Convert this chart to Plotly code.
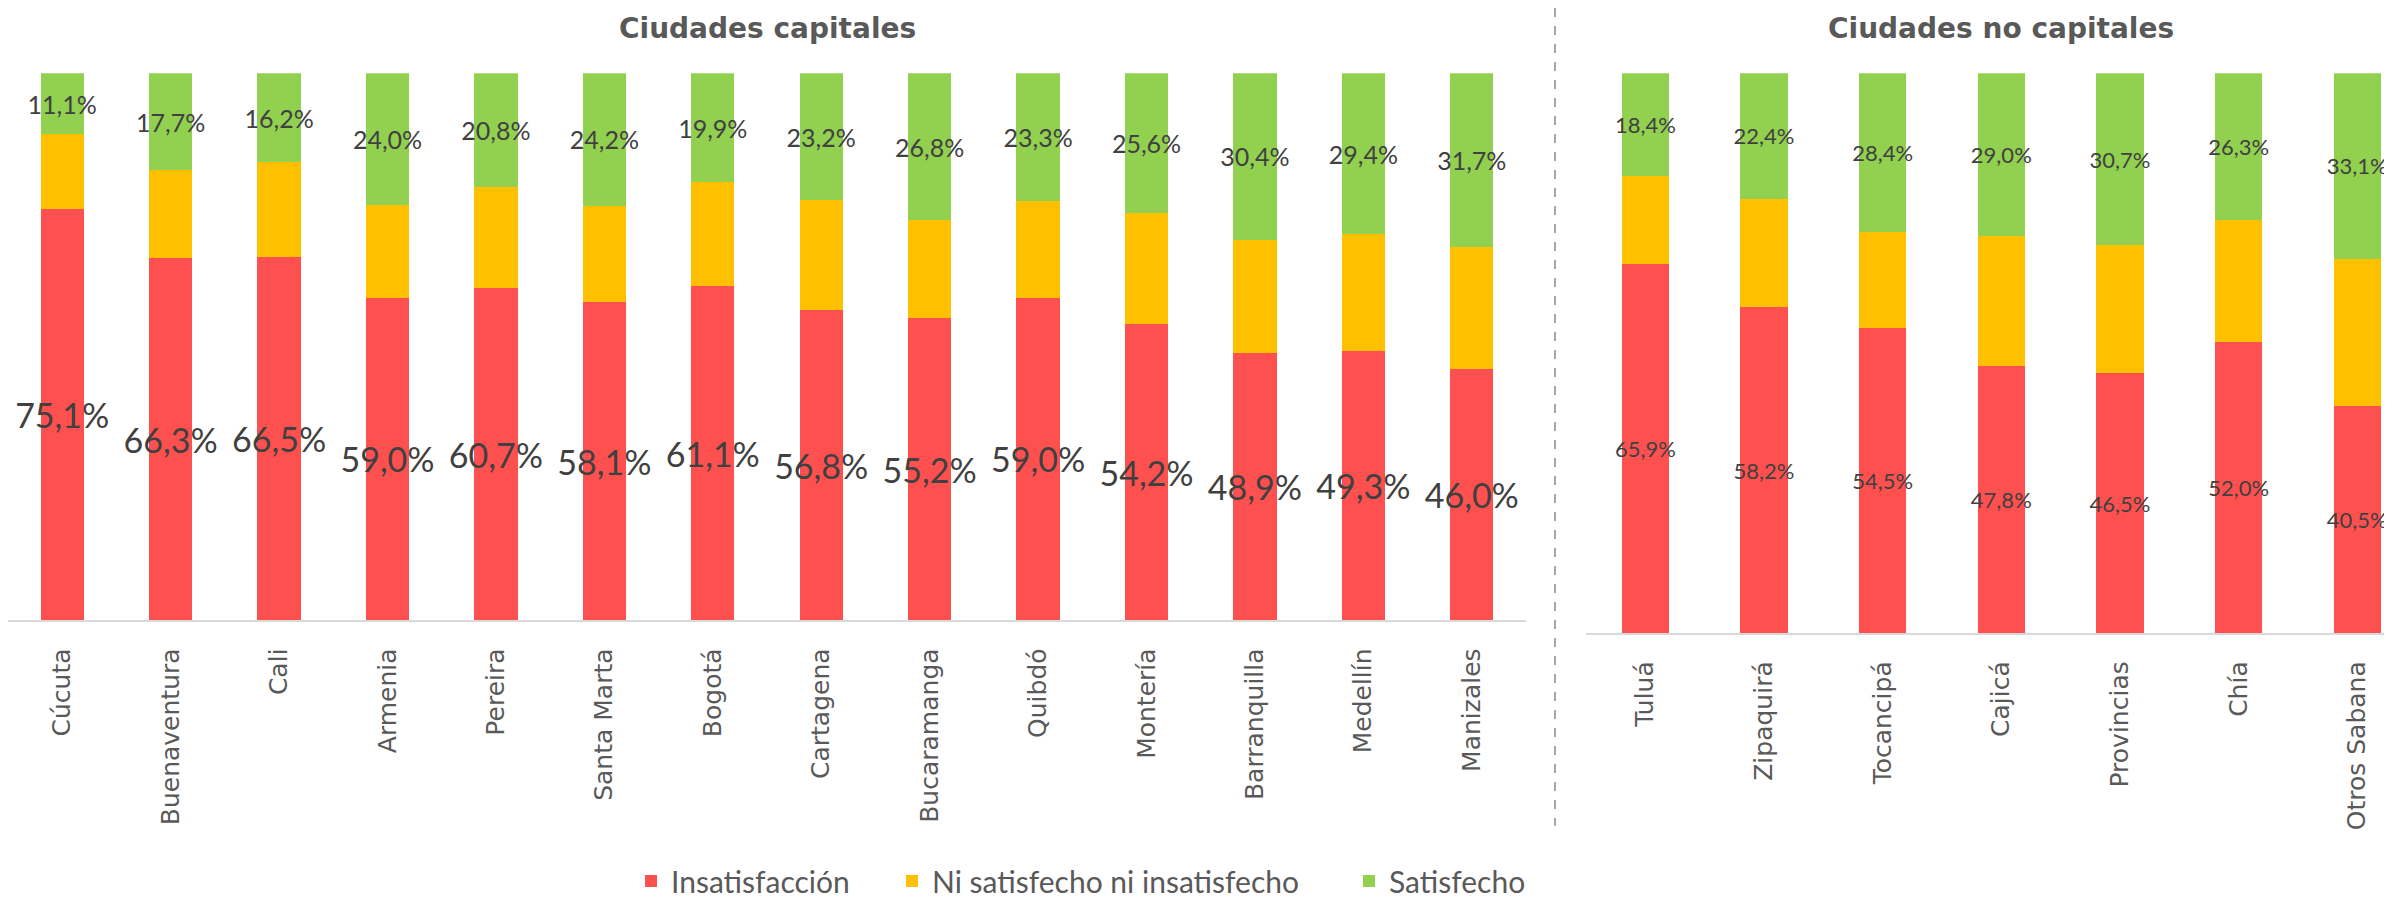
import plotly.graph_objects as go

# Ciudades capitales
capitales = ["Cúcuta", "Buenaventura", "Cali", "Armenia", "Pereira", "Santa Marta", "Bogotá",
             "Cartagena", "Bucaramanga", "Quibdó", "Montería", "Barranquilla", "Medellín", "Manizales"]
cap_insat = [75.1, 66.3, 66.5, 59.0, 60.7, 58.1, 61.1, 56.8, 55.2, 59.0, 54.2, 48.9, 49.3, 46.0]
cap_neutro = [13.8, 16.0, 17.3, 17.0, 18.5, 17.7, 19.0, 20.0, 18.0, 17.7, 20.2, 20.7, 21.3, 22.3]
cap_satisf = [11.1, 17.7, 16.2, 24.0, 20.8, 24.2, 19.9, 23.2, 26.8, 23.3, 25.6, 30.4, 29.4, 31.7]

# Ciudades no capitales
no_capitales = ["Tuluá", "Zipaquirá", "Tocancipá", "Cajicá", "Provincias", "Chía", "Otros Sabana"]
nocap_insat = [65.9, 58.2, 54.5, 47.8, 46.5, 52.0, 40.5]
nocap_neutro = [15.7, 19.4, 17.1, 23.2, 22.8, 21.7, 26.4]
nocap_satisf = [18.4, 22.4, 28.4, 29.0, 30.7, 26.3, 33.1]

series = ["Insatisfacción", "Ni satisfecho ni insatisfecho", "Satisfecho"]
colores = ["#FF5050", "#FFC000", "#92D050"]
leyendas = ["legend", "legend2", "legend3"]

W, H = 2392, 899
label_font = "Lato, sans-serif"

fig = go.Figure()

# panel izquierdo
left_vals = [cap_insat, cap_neutro, cap_satisf]
left_sizes = [34, None, 25]
for name, vals, col, size, lg in zip(series, left_vals, colores, left_sizes, leyendas):
    fig.add_trace(go.Bar(
        x=capitales, y=vals, name=name, marker=dict(color=col, line=dict(width=0)),
        texttemplate="%{y:.1f}%" if size else None,
        textposition="inside" if size else "none",
        insidetextanchor="middle", textangle=0, constraintext="none",
        textfont=dict(family=label_font, size=size or 10, color="#404040"),
        xaxis="x", yaxis="y", legend=lg,
    ))

# panel derecho
right_vals = [nocap_insat, nocap_neutro, nocap_satisf]
right_sizes = [22, None, 22]
for name, vals, col, size in zip(series, right_vals, colores, right_sizes):
    fig.add_trace(go.Bar(
        x=no_capitales, y=vals, name=name, marker=dict(color=col, line=dict(width=0)),
        texttemplate="%{y:.1f}%" if size else None,
        textposition="inside" if size else "none",
        insidetextanchor="middle", textangle=0, constraintext="none",
        textfont=dict(family=label_font, size=size or 10, color="#404040"),
        xaxis="x2", yaxis="y2", showlegend=False,
    ))

axis_common = dict(
    showline=True, linecolor="#D9D9D9", linewidth=2, showgrid=False, zeroline=False,
    tickangle=-90, ticks="", ticklabelstandoff=16,
    tickfont=dict(family="DejaVu Sans, Verdana, sans-serif", size=25, color="#595959"),
)

legend_common = dict(orientation="h", y=1 - 884 / H, yanchor="middle", xanchor="left",
                     font=dict(family="Lato, sans-serif", size=30, color="#595959"),
                     bgcolor="rgba(0,0,0,0)")

title_font = dict(family="DejaVu Sans, Verdana, sans-serif", size=28, color="#595959")

fig.update_layout(
    width=W, height=H,
    paper_bgcolor="white", plot_bgcolor="white",
    margin=dict(l=0, r=0, t=0, b=0),
    barmode="stack", bargap=0.6,
    separators=",.",
    xaxis=dict(domain=[0, 1518 / W], range=[-0.5, 13.5], anchor="y", **axis_common),
    yaxis=dict(domain=[1 - 620 / H, 1 - 66 / H], range=[0, 100], visible=False),
    xaxis2=dict(domain=[1578 / W, 1], range=[-0.5, 6.36], anchor="y2", **axis_common),
    yaxis2=dict(domain=[1 - 633 / H, 1 - 66 / H], range=[0, 100], visible=False, anchor="x2"),
    showlegend=True,
    legend=dict(x=623 / W, **legend_common),
    legend2=dict(x=884 / W, **legend_common),
    legend3=dict(x=1341 / W, **legend_common),
    annotations=[
        dict(text="<b>Ciudades capitales</b>", x=759 / W, y=1 - 21 / H, xref="paper", yref="paper",
             xanchor="center", yanchor="middle", showarrow=False, font=title_font),
        dict(text="<b>Ciudades no capitales</b>", x=1993 / W, y=1 - 21 / H, xref="paper", yref="paper",
             xanchor="center", yanchor="middle", showarrow=False, font=title_font),
    ],
    shapes=[dict(type="line", xref="paper", yref="paper", x0=1547 / W, x1=1547 / W,
                 y0=1, y1=1 - 828 / H, line=dict(color="#A6A6A6", width=2, dash="dash"))],
)

fig.write_html("out.html")
